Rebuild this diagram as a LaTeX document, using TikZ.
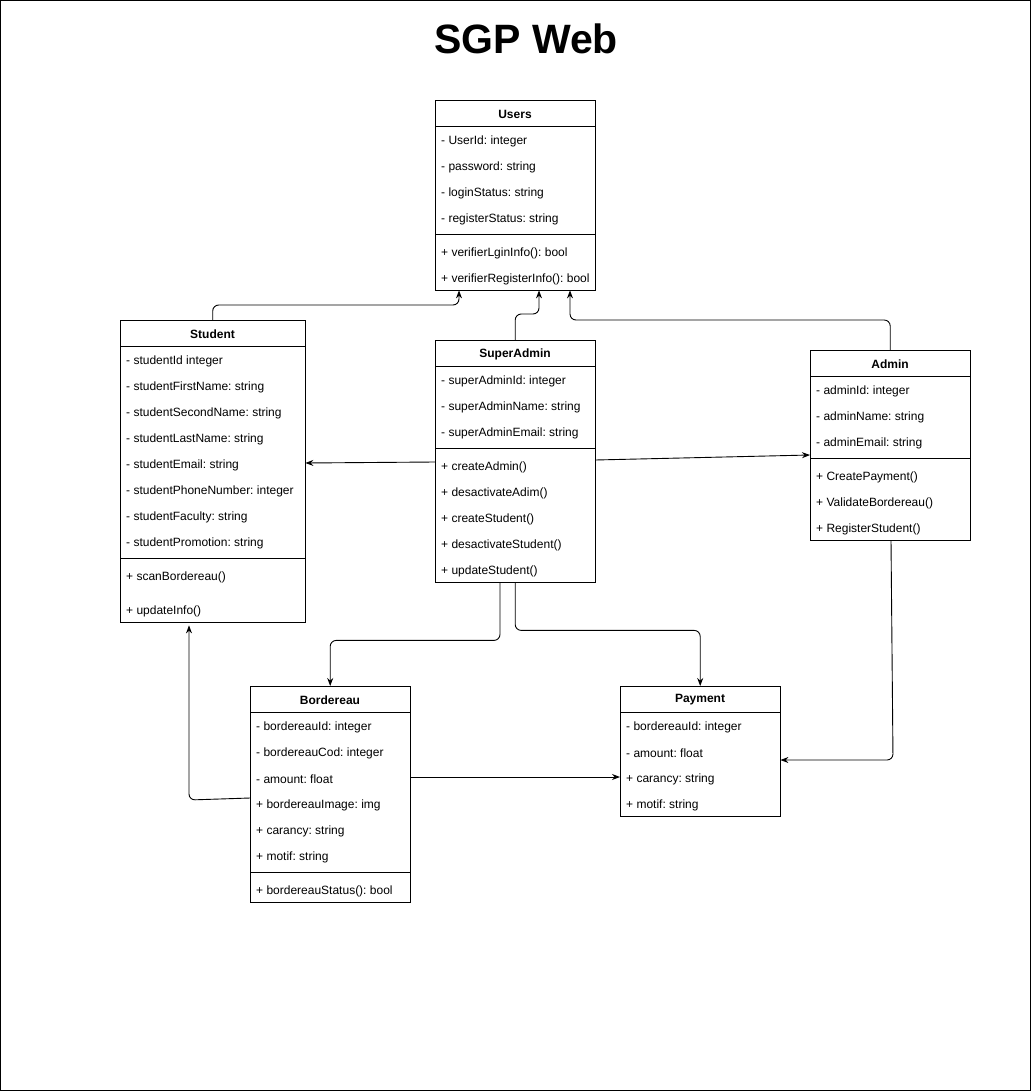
\documentclass[tikz,border=0pt]{standalone}
\usepackage{fontspec}
\setmainfont{Liberation Sans}
\frenchspacing
\usetikzlibrary{arrows.meta, calc, positioning}
\tikzset{
    classbox/.style={draw, rectangle, anchor=north west, inner sep=0pt, minimum width=160},
    header/.style={font=\fontsize{12}{14}\selectfont\bfseries, inner sep=0pt},
    member/.style={font=\fontsize{12}{14}\selectfont, anchor=west, inner sep=0pt},
    conn/.style={draw, line width=0.9pt, rounded corners=6, -{Stealth[length=8pt, width=6pt]}}
}

\begin{document}
\begin{tikzpicture}[x=1pt, y=-1pt]
    \draw[line width=1pt] (0.5,0.5) rectangle (1030.5,1090.5);
    \node[font=\fontsize{41}{46}\selectfont\bfseries, inner sep=0pt] (title) at (526,39) {SGP Web};
    % Users
    \node[classbox, minimum height=190] (users) at (435,100) {};
    \node[header] at (515,114) {Users};
    \draw (users.north west) ++(0,26) -- ++(160,0);
    \node[member] at (441,141) {- UserId: integer};
    \node[member] at (441,167) {- password: string};
    \node[member] at (441,193) {- loginStatus: string};
    \node[member] at (441,219) {- registerStatus: string};
    \draw (users.north west) ++(0,134) -- ++(160,0);
    \node[member] at (441,253) {+ verifierLginInfo(): bool};
    \node[member] at (441,279) {+ verifierRegisterInfo(): bool};
    % Student
    \node[classbox, minimum width=185, minimum height=302] (student) at (120,320) {};
    \node[header] at (212.5,334) {Student};
    \draw (student.north west) ++(0,26) -- ++(185,0);
    \node[member] at (126,361) {- studentId integer};
    \node[member] at (126,387) {- studentFirstName: string};
    \node[member] at (126,413) {- studentSecondName: string};
    \node[member] at (126,439) {- studentLastName: string};
    \node[member] at (126,465) {- studentEmail: string};
    \node[member] at (126,491) {- studentPhoneNumber: integer};
    \node[member] at (126,517) {- studentFaculty: string};
    \node[member] at (126,543) {- studentPromotion: string};
    \draw (student.north west) ++(0,238) -- ++(185,0);
    \node[member] at (126,577) {+ scanBordereau()};
    \node[member] at (126,611) {+ updateInfo()};
    % SuperAdmin
    \node[classbox, minimum height=242] (superadmin) at (435,340) {};
    \node[header] at (515,354) {SuperAdmin};
    \draw (superadmin.north west) ++(0,26) -- ++(160,0);
    \node[member] at (441,381) {- superAdminId: integer};
    \node[member] at (441,407) {- superAdminName: string};
    \node[member] at (441,433) {- superAdminEmail: string};
    \draw (superadmin.north west) ++(0,108) -- ++(160,0);
    \node[member] at (441,467) {+ createAdmin()};
    \node[member] at (441,493) {+ desactivateAdim()};
    \node[member] at (441,519) {+ createStudent()};
    \node[member] at (441,545) {+ desactivateStudent()};
    \node[member] at (441,571) {+ updateStudent()};
    % Admin
    \node[classbox, minimum height=190] (admin) at (810,350) {};
    \node[header] at (890,364) {Admin};
    \draw (admin.north west) ++(0,26) -- ++(160,0);
    \node[member] at (816,391) {- adminId: integer};
    \node[member] at (816,417) {- adminName: string};
    \node[member] at (816,443) {- adminEmail: string};
    \draw (admin.north west) ++(0,108) -- ++(160,0);
    \node[member] at (816,477) {+ CreatePayment()};
    \node[member] at (816,503) {+ ValidateBordereau()};
    \node[member] at (816,529) {+ RegisterStudent()};
    % Bordereau
    \node[classbox, minimum height=216] (bordereau) at (250,686) {};
    \node[header] at (330,700) {Bordereau};
    \draw (bordereau.north west) ++(0,26) -- ++(160,0);
    \node[member] at (256,727) {- bordereauId: integer};
    \node[member] at (256,753) {- bordereauCod: integer};
    \node[member] at (256,779) {- amount: float};
    \node[member] at (256,805) {+ bordereauImage: img};
    \node[member] at (256,831) {+ carancy: string};
    \node[member] at (256,857) {+ motif: string};
    \draw (bordereau.north west) ++(0,186) -- ++(160,0);
    \node[member] at (256,891) {+ bordereauStatus(): bool};
    % Payment
    \node[classbox, minimum height=130] (payment) at (620,686) {};
    \node[header] at (700,700) {Payment};
    \draw (payment.north west) ++(0,26) -- ++(160,0);
    \node[member] at (626,727) {- bordereauId: integer};
    \node[member] at (626,753) {- amount: float};
    \node[member] at (626,779) {+ carancy: string};
    \node[member] at (626,805) {+ motif: string};
    % connectors
    \coordinate (adminbend) at (893,760);
    \coordinate (bordbend) at (189,800);
    \draw[conn] (student.north) -- ++(0,-15) -| ([xshift=24]users.south west);
    \draw[conn] (superadmin.north) -- ++(0,-26) -| ([xshift=104]users.south west);
    \draw[conn] (admin.north) -- ++(0,-30) -| ([xshift=135]users.south west);
    \draw[conn] ([yshift=-122]superadmin.north west) -- ([yshift=-143]student.north east);
    \draw[conn] ([yshift=-120]superadmin.north east) -- ([yshift=-105]admin.north west);
    \draw[conn] ([xshift=65]superadmin.south west) -- ++(0,58) -| (bordereau.north);
    \draw[conn] (superadmin.south) -- ++(0,48) -| (payment.north);
    \draw[conn] ([xshift=81]admin.south west) -- (adminbend) -- ([yshift=-74]payment.north east);
    \draw[conn, shorten >=3pt] ([yshift=-112]bordereau.north west) -- (bordbend) -- (bordbend |- student.south);
    \draw[conn] ([yshift=-91]bordereau.north east) -- ([yshift=-91]payment.north west);
\end{tikzpicture}
\end{document}
